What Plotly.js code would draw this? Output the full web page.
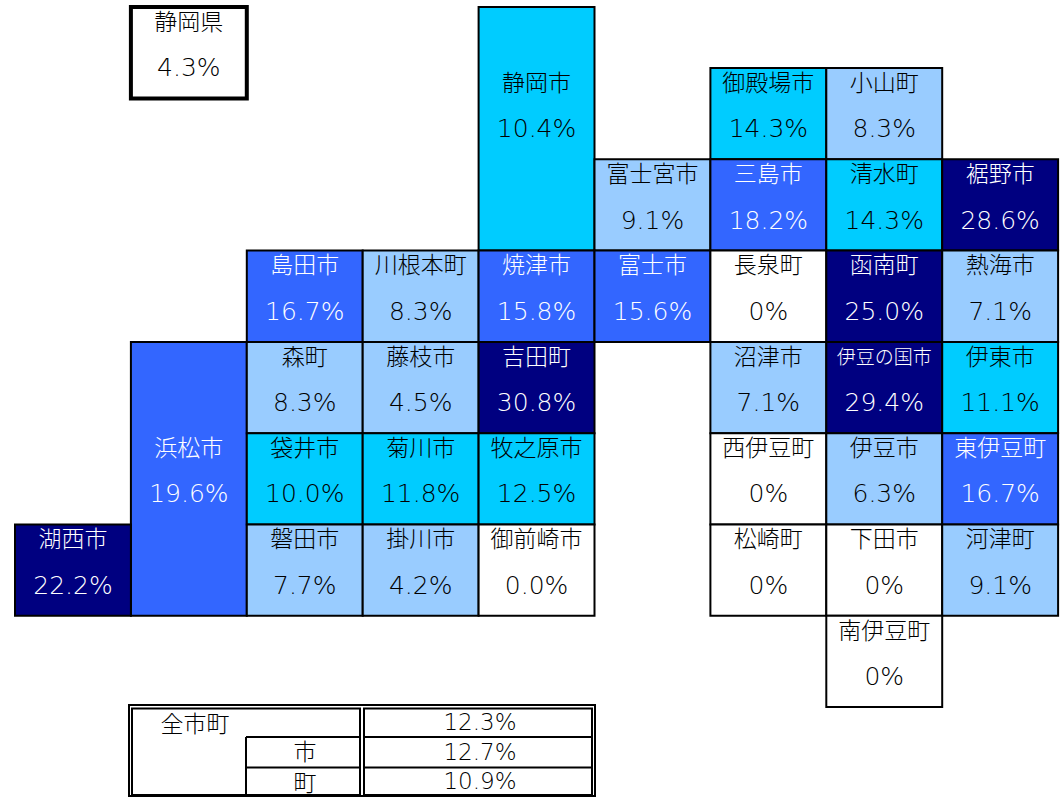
<!DOCTYPE html>
<html><head><meta charset="utf-8">
<script src="https://cdn.plot.ly/plotly-3.0.1.min.js"></script>
<style>html,body{margin:0;padding:0;background:#fff}#c{width:1061px;height:797px}</style>
</head><body><div id="c"></div>
<script>
const names=["静岡県","静岡市","御殿場市","小山町","富士宮市","三島市","清水町","裾野市","島田市","川根本町","焼津市","富士市","長泉町","函南町","熱海市","浜松市","森町","藤枝市","吉田町","沼津市","伊豆の国市","伊東市","袋井市","菊川市","牧之原市","西伊豆町","伊豆市","東伊豆町","湖西市","磐田市","掛川市","御前崎市","松崎町","下田市","河津町","南伊豆町"];
const rateLabels=["4.3%","10.4%","14.3%","8.3%","9.1%","18.2%","14.3%","28.6%","16.7%","8.3%","15.8%","15.6%","0%","25.0%","7.1%","19.6%","8.3%","4.5%","30.8%","7.1%","29.4%","11.1%","10.0%","11.8%","12.5%","0%","6.3%","16.7%","22.2%","7.7%","4.2%","0.0%","0%","0%","9.1%","0%"];
const cols=[1,4,6,7,5,6,7,8,2,3,4,5,6,7,8,1,2,3,4,6,7,8,2,3,4,6,7,8,0,2,3,4,6,7,8,7];
const rows=[-0.667,-0.667,0,0,1,1,1,1,2,2,2,2,2,2,2,3,3,3,3,3,3,3,4,4,4,4,4,4,5,5,5,5,5,5,5,6];
const spans=[1,2.667,1,1,1,1,1,1,1,1,1,1,1,1,1,3,1,1,1,1,1,1,1,1,1,1,1,1,1,1,1,1,1,1,1,1];
const labelRows=[-0.668,0,0,0,1,1,1,1,2,2,2,2,2,2,2,4,3,3,3,3,3,3,4,4,4,4,4,4,5,5,5,5,5,5,5,6];
const summaryLabels=["全市町","市","町"];
const summaryValues=["12.3%","12.7%","10.9%"];

const X0=15,UX=115.9,Y0=68,UY=91.3,W=1061,H=797;
const gx=p=>(p-X0)/UX, gy=p=>(p-Y0)/UY;
const rates=rateLabels.map(parseFloat);
const fill=(r,i)=>i===0?"#FFFFFF":r===0?"#FFFFFF":r<10?"#99CCFF":r<15?"#00CCFF":r<20?"#3366FF":"#000080";
const colors=rates.map(fill);
const inks=colors.map(c=>(c==="#3366FF"||c==="#000080")?"#FFFFFF":"#000000");
const jp='"Noto Sans CJK JP","Noto Sans",sans-serif';
const num='"DejaVu Sans",sans-serif';

const cells={type:"bar",x:cols.map(c=>c+0.5),y:spans,base:rows,width:1,
 marker:{color:colors,line:{color:"#000000",width:names.map((n,i)=>i===0?4:2)}},hoverinfo:"skip",showlegend:false};
const nameTr={type:"scatter",mode:"text",x:cols.map(c=>c+0.5),y:labelRows.map(r=>r+(268-251)/UY),text:names,
 textfont:{family:jp,weight:300,size:names.map(n=>n.length>4?19:23),color:inks},textposition:"middle center",hoverinfo:"skip",showlegend:false,cliponaxis:false};
const valTr={type:"scatter",mode:"text",x:cols.map(c=>c+0.5),y:labelRows.map(r=>r+(314-251)/UY),text:rateLabels,
 textfont:{family:num,weight:200,size:25,color:inks},textposition:"middle center",hoverinfo:"skip",showlegend:false,cliponaxis:false};

const seg=(x0,y0,x1,y1,w)=>({type:"line",xref:"x",yref:"y",x0:gx(x0),y0:gy(y0),x1:gx(x1),y1:gy(y1),line:{color:"#000",width:w}});
const rect=(x0,y0,x1,y1,w)=>({type:"rect",xref:"x",yref:"y",x0:gx(x0),y0:gy(y0),x1:gx(x1),y1:gy(y1),line:{color:"#000",width:w},fillcolor:"rgba(0,0,0,0)"});
const shapes=[rect(129,705,595,796,2),rect(132,708.5,360,795,2),rect(364,708.5,592,795,2),
 seg(246,737,360,737,2),seg(246,767.5,360,767.5,2),seg(246,737,246,795,2),seg(364,737,592,737,2),seg(364,767.5,592,767.5,2)];

const summaryName={type:"scatter",mode:"text",x:[gx(195),gx(305),gx(305)],y:[gy(726),gy(754),gy(785)],text:summaryLabels,
 textfont:{family:jp,weight:300,size:23,color:"#000"},textposition:"middle center",hoverinfo:"skip",showlegend:false,cliponaxis:false};
const summaryVal={type:"scatter",mode:"text",x:[gx(480),gx(480),gx(480)],y:[gy(724),gy(754),gy(783)],text:summaryValues,
 textfont:{family:num,weight:200,size:23,color:"#000"},textposition:"middle center",hoverinfo:"skip",showlegend:false,cliponaxis:false};

Plotly.newPlot("c",[cells,nameTr,valTr,summaryName,summaryVal],{
 width:W,height:H,margin:{l:0,r:0,t:0,b:0},paper_bgcolor:"#fff",plot_bgcolor:"#fff",barmode:"overlay",
 xaxis:{range:[gx(0),gx(W)],visible:false,fixedrange:true},
 yaxis:{range:[gy(H),gy(0)],visible:false,fixedrange:true},
 shapes:shapes,showlegend:false
},{displayModeBar:false,staticPlot:true});
</script></body></html>
